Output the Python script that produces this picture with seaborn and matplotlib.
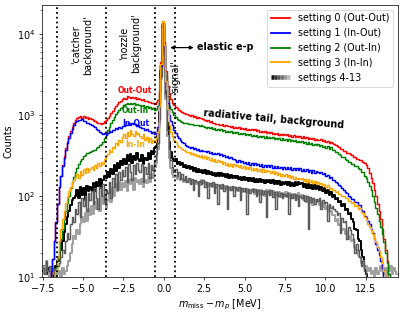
import numpy as np
import matplotlib
matplotlib.use("Agg")
import matplotlib.pyplot as plt
import seaborn as sns
from matplotlib.lines import Line2D
from matplotlib.legend_handler import HandlerTuple

nan = np.nan

# bin centres of the missing-mass histogram (0.1 MeV bins)
x_centers = np.round(np.arange(-7.45, 14.5, 0.1), 2)

out_out = [
    nan, nan, nan, nan, 9, 12, 17, 28, 48, 80,
    130, 180, 240, 310, 390, 470, 560, 640, 720, 790,
    860, 915, 955, 985, 930, 965, 915, 950, 905, 935,
    890, 865, 840, 820, 790, 810, 775, 800, 835, 860,
    910, 980, 1070, 1140, 1230, 1290, 1380, 1440, 1510, 1580,
    1640, 1600, 1700, 1660, 1620, 1690, 1630, 1670, 1600, 1640,
    1590, 1530, 1560, 1490, 1510, 1450, 1470, 1400, 1420, 1370,
    1450, 1550, 2000, 4500, 13800, 8000, 3500, 2300, 1800, 1560,
    1420, 1340, 1270, 1210, 1160, 1120, 1090, 1060, 1040, 1020,
    1005, 980, 990, 955, 965, 935, 950, 915, 925, 895,
    880, 850, 870, 825, 840, 795, 810, 770, 785, 755,
    760, 775, 740, 750, 725, 740, 712, 725, 700, 712,
    700, 715, 680, 698, 672, 692, 662, 684, 655, 672,
    652, 668, 636, 652, 626, 645, 616, 634, 602, 618,
    598, 618, 588, 602, 580, 598, 572, 592, 566, 582,
    562, 578, 552, 568, 542, 562, 536, 552, 532, 548,
    526, 546, 516, 532, 510, 528, 502, 522, 496, 512,
    500, 488, 502, 478, 492, 468, 480, 458, 466, 448,
    440, 428, 412, 402, 386, 382, 366, 362, 346, 342,
    328, 322, 306, 302, 292, 292, 276, 278, 262, 256,
    240, 220, 195, 170, 145, 120, 100, 80, 65, 52,
    40, 30, 22, 16, 11, 8, nan, nan, nan, nan,
]

in_out = [
    nan, nan, nan, nan, 9, 12, 17, 28, 48, 80,
    130, 178, 236, 300, 375, 450, 530, 610, 680, 750,
    820, 850, 880, 860, 885, 845, 850, 810, 800, 770,
    760, 730, 710, 670, 650, 615, 600, 585, 595, 575,
    600, 630, 620, 660, 650, 690, 680, 720, 700, 740,
    730, 765, 750, 790, 760, 800, 770, 780, 740, 750,
    720, 700, 690, 660, 670, 630, 640, 610, 620, 590,
    600, 720, 1400, 4000, 13600, 7200, 2600, 1400, 1000, 850,
    760, 660, 600, 550, 520, 490, 470, 450, 430, 415,
    405, 392, 400, 382, 390, 372, 380, 366, 372, 358,
    365, 348, 358, 340, 350, 334, 345, 328, 340, 322,
    332, 316, 325, 304, 312, 294, 302, 284, 292, 278,
    268, 280, 262, 272, 256, 268, 250, 262, 246, 258,
    245, 256, 240, 252, 236, 248, 232, 246, 230, 242,
    228, 242, 226, 238, 223, 236, 220, 232, 218, 230,
    216, 230, 214, 227, 212, 224, 210, 222, 208, 220,
    206, 218, 203, 215, 200, 212, 196, 208, 193, 205,
    200, 193, 199, 186, 191, 178, 183, 170, 171, 160,
    160, 150, 147, 138, 135, 126, 121, 113, 109, 100,
    98, 92, 93, 86, 86, 78, 77, 68, 65, 57,
    55, 50, 45, 40, 35, 30, 26, 22, 19, 16,
    13, 10, 8, nan, nan, nan, nan, nan, nan, nan,
]

out_in = [
    nan, nan, nan, nan, nan, nan, 8, 10, 13, 17,
    22, 30, 40, 52, 66, 82, 100, 125, 150, 175,
    200, 225, 248, 272, 288, 312, 320, 338, 342, 352,
    360, 368, 372, 392, 402, 428, 440, 472, 518, 580,
    650, 720, 800, 880, 950, 1020, 1090, 1150, 1210, 1270,
    1320, 1380, 1410, 1380, 1430, 1360, 1410, 1350, 1390, 1340,
    1350, 1300, 1330, 1260, 1290, 1220, 1250, 1180, 1210, 1150,
    1200, 1300, 1800, 4200, 13500, 7500, 3000, 1700, 1300, 1180,
    1100, 1010, 950, 900, 865, 845, 825, 810, 800, 790,
    785, 770, 778, 758, 766, 748, 758, 738, 748, 728,
    722, 698, 716, 688, 706, 678, 692, 662, 682, 652,
    666, 638, 656, 628, 642, 612, 632, 602, 622, 596,
    612, 588, 602, 578, 597, 572, 588, 562, 582, 558,
    572, 548, 562, 538, 557, 532, 552, 526, 547, 524,
    542, 516, 537, 512, 530, 504, 524, 498, 517, 494,
    512, 486, 507, 481, 500, 474, 492, 466, 484, 461,
    477, 451, 470, 444, 462, 436, 454, 428, 447, 424,
    440, 414, 432, 406, 422, 396, 412, 386, 400, 376,
    372, 356, 347, 331, 324, 308, 302, 286, 282, 266,
    264, 251, 250, 236, 234, 221, 218, 201, 197, 178,
    168, 150, 135, 118, 102, 86, 72, 60, 50, 42,
    34, 27, 20, 15, 11, 8, nan, nan, nan, nan,
]

in_in = [
    nan, nan, nan, nan, nan, nan, nan, 8, 12, 18,
    28, 40, 52, 66, 82, 98, 115, 130, 150, 160,
    175, 190, 170, 205, 185, 215, 195, 225, 200, 215,
    230, 210, 245, 220, 255, 235, 265, 250, 290, 310,
    330, 370, 350, 410, 390, 450, 430, 500, 470, 540,
    580, 530, 620, 560, 650, 590, 560, 630, 580, 610,
    560, 520, 580, 500, 540, 470, 520, 450, 500, 470,
    530, 620, 1300, 4300, 14500, 7400, 2600, 1200, 760, 620,
    560, 490, 460, 430, 410, 400, 385, 375, 365, 355,
    350, 335, 342, 325, 332, 315, 325, 308, 318, 300,
    310, 290, 302, 282, 295, 275, 290, 268, 282, 262,
    270, 252, 265, 245, 258, 238, 252, 232, 248, 238,
    242, 228, 240, 222, 235, 218, 232, 215, 228, 212,
    225, 208, 222, 204, 218, 200, 214, 198, 210, 205,
    205, 192, 202, 188, 198, 184, 194, 180, 190, 176,
    186, 172, 182, 168, 178, 164, 174, 162, 170, 165,
    168, 156, 165, 152, 162, 150, 158, 146, 154, 142,
    150, 140, 146, 136, 142, 130, 136, 124, 128, 118,
    120, 112, 115, 106, 108, 100, 102, 94, 96, 88,
    88, 82, 84, 76, 78, 70, 72, 64, 62, 55,
    52, 46, 42, 38, 34, 30, 27, 24, 21, 18,
    15, 12, 10, 8, nan, nan, nan, nan, nan, nan,
]

# settings 4-13 (grey shades)
grey_black = [
    12, 14, 11, 13, 10, 12, 9, 11, 14, 16,
    18, 22, 28, 36, 45, 55, 66, 78, 90, 95,
    100, 120, 95, 130, 105, 125, 90, 135, 115, 130,
    120, 145, 115, 150, 135, 165, 125, 160, 180, 170,
    200, 175, 215, 190, 240, 205, 255, 225, 270, 240,
    290, 250, 320, 270, 330, 260, 310, 280, 340, 285,
    270, 320, 250, 300, 280, 340, 290, 360, 330, 390,
    420, 560, 1100, 3500, 12500, 6500, 2000, 800, 460, 350,
    300, 270, 290, 250, 265, 240, 255, 230, 245, 225,
    235, 215, 228, 205, 222, 200, 218, 198, 212, 195,
    208, 190, 204, 186, 200, 182, 196, 180, 192, 178,
    194, 176, 190, 172, 186, 170, 184, 168, 180, 166,
    178, 164, 175, 160, 172, 158, 170, 156, 168, 155,
    166, 152, 164, 150, 162, 148, 160, 146, 158, 150,
    160, 145, 158, 142, 156, 140, 154, 138, 152, 140,
    150, 136, 148, 134, 146, 132, 150, 136, 148, 140,
    145, 130, 142, 128, 140, 126, 138, 124, 136, 122,
    134, 120, 130, 116, 126, 110, 120, 104, 112, 98,
    104, 92, 96, 84, 88, 76, 80, 68, 70, 60,
    62, 52, 48, 40, 38, 30, 28, 22, 18, 14,
    11, 9, nan, nan, nan, nan, nan, nan, nan, nan,
    nan, nan, nan, nan, nan, nan, nan, nan, nan, nan,
]

grey_light = [
    14, 11, 16, 12, 10, 13, 11, 12, 10, 11,
    12, 10, 13, 11, 12, 14, 16, 20, 26, 32,
    30, 38, 34, 45, 55, 48, 62, 50, 70, 58,
    75, 60, 85, 70, 90, 65, 95, 80, 100, 72,
    90, 110, 85, 125, 100, 140, 115, 150, 120, 145,
    130, 155, 115, 160, 140, 165, 120, 170, 150, 160,
    140, 165, 130, 158, 145, 175, 150, 190, 170, 230,
    260, 380, 800, 2800, 11500, 5500, 1600, 550, 300, 220,
    190, 175, 180, 165, 170, 160, 165, 150, 162, 155,
    160, 148, 158, 142, 155, 140, 152, 138, 158, 145,
    150, 138, 146, 134, 142, 130, 140, 128, 138, 132,
    136, 124, 134, 122, 132, 120, 130, 118, 130, 125,
    128, 116, 126, 114, 124, 112, 122, 110, 120, 115,
    122, 108, 120, 106, 118, 104, 116, 102, 120, 110,
    118, 104, 116, 102, 114, 100, 112, 98, 110, 100,
    112, 98, 110, 96, 108, 94, 106, 92, 110, 100,
    104, 90, 100, 86, 96, 82, 92, 78, 90, 84,
    90, 78, 86, 74, 82, 70, 76, 64, 66, 58,
    58, 50, 52, 44, 46, 38, 40, 34, 36, 30,
    32, 28, 29, 24, 22, 19, 18, 15, 16, 13,
    14, 12, 13, 11, 12, 10, 13, 11, 12, 14,
    12, 11, 13, 10, 12, 14, 11, 13, 12, 11,
]

grey_dark = [
    13, 11, 16, 12, 14, 10, 13, 11, 12, 14,
    15, 18, 22, 20, 28, 35, 30, 45, 55, 48,
    70, 60, 85, 55, 95, 75, 100, 65, 110, 90,
    115, 80, 125, 95, 70, 130, 100, 140, 85, 120,
    110, 150, 95, 170, 130, 190, 120, 200, 160, 210,
    180, 230, 150, 250, 200, 160, 240, 190, 260, 210,
    200, 250, 150, 230, 190, 260, 170, 240, 210, 280,
    330, 450, 900, 3000, 12000, 6000, 1800, 650, 380, 280,
    230, 200, 215, 180, 200, 165, 190, 160, 180, 150,
    170, 140, 165, 120, 160, 150, 100, 155, 140, 160,
    130, 150, 95, 145, 135, 150, 110, 140, 80, 138,
    125, 140, 115, 135, 70, 130, 120, 135, 100, 130,
    120, 130, 90, 128, 115, 125, 60, 122, 110, 124,
    112, 122, 100, 118, 85, 120, 108, 116, 55, 115,
    105, 118, 98, 114, 70, 112, 100, 110, 95, 108,
    100, 110, 60, 108, 96, 106, 90, 104, 75, 102,
    95, 104, 88, 100, 40, 98, 86, 96, 80, 92,
    88, 94, 70, 90, 82, 86, 50, 80, 72, 76,
    70, 66, 58, 62, 35, 54, 48, 50, 30, 42,
    38, 34, 30, 20, 26, 22, 18, 14, 16, 12,
    10, nan, nan, nan, nan, nan, nan, nan, nan, nan,
    nan, nan, nan, nan, nan, nan, nan, nan, nan, nan,
]

legend_labels = ["setting 0 (Out-Out)", "setting 1 (In-Out)",
                 "setting 2 (Out-In)", "setting 3 (In-In)", "settings 4-13"]
region_edges = [-6.6, -3.55, -0.55, 0.7]

plt.rcParams["font.size"] = 10.7

fig = plt.figure(figsize=(6.385, 4.8), dpi=65)
ax = fig.add_axes([0.1005, 0.111, 0.8585, 0.874])
ax.set_yscale("log")

grey_series = [(grey_black, "#000000", 2.2), (grey_light, "#a0a0a0", 2.2),
               (grey_dark, "#5a5a5a", 1.6)]
for vals, col, lw in grey_series:
    sns.lineplot(x=x_centers, y=np.array(vals, float), ax=ax, color=col, lw=lw,
                 drawstyle="steps-mid", estimator=None, sort=False)

col_series = [(out_out, "red"), (out_in, "green"), (in_out, "blue"), (in_in, "orange")]
for vals, col in col_series:
    sns.lineplot(x=x_centers, y=np.array(vals, float), ax=ax, color=col, lw=1.6,
                 drawstyle="steps-mid", estimator=None, sort=False)

for xe in region_edges:
    ax.axvline(xe, color="black", ls=":", lw=2, zorder=5)

ax.set_xlim(-7.55, 14.5)
ax.set_ylim(10, 23000)
ax.set_xlabel(r"$m_\mathrm{miss} - m_p$ [MeV]")
ax.set_ylabel("Counts")

ax.text(-5.06, 7300, "'catcher\nbackground'", rotation=90, ha="center",
        va="center", multialignment="center", fontsize=10.7)
ax.text(-2.09, 7700, "'nozzle\nbackground'", rotation=90, ha="center",
        va="center", multialignment="center", fontsize=10.7)
ax.text(0.68, 2950, "'signal'", rotation=90, ha="center", va="center", fontsize=10.7)
ax.annotate("", xy=(0.4, 6800), xytext=(1.85, 6800),
            arrowprops=dict(arrowstyle="<|-|>", color="black", lw=1.3,
                            mutation_scale=8, shrinkA=0, shrinkB=0))
ax.text(2.05, 6900, "elastic e-p", fontsize=10.7, fontweight="bold", va="center")
ax.text(6.8, 900, "radiative tail, background", fontsize=10.7, fontweight="bold",
        rotation=-5, ha="center", va="center")
ax.text(-1.78, 2000, "Out-Out", color="red", fontsize=8.5, fontweight="bold", ha="center", va="center", zorder=6)
ax.text(-1.78, 1130, "Out-In", color="green", fontsize=8.5, fontweight="bold", ha="center", va="center", zorder=6)
ax.text(-1.73, 790, "In-Out", color="blue", fontsize=8.5, fontweight="bold", ha="center", va="center", zorder=6)
ax.text(-1.78, 435, "In-In", color="orange", fontsize=8.5, fontweight="bold", ha="center", va="center", zorder=6)

handles = [Line2D([], [], color=c, lw=2) for c in ["red", "blue", "green", "orange"]]
grey_handle = tuple(Line2D([], [], color=g, lw=5, solid_capstyle="butt")
                    for g in ["#111111", "#333333", "#555555", "#777777", "#999999", "#bbbbbb"])
handles.append(grey_handle)
ax.legend(handles, legend_labels, loc="upper right",
          handler_map={tuple: HandlerTuple(ndivide=None, pad=0)})

fig.savefig("out.png", dpi=65)
